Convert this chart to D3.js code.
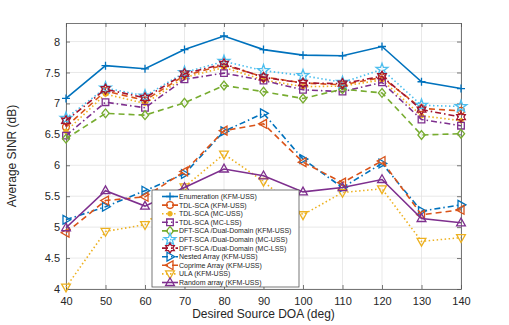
<!DOCTYPE html>
<html>
<head>
<meta charset="utf-8">
<script src="https://cdn.jsdelivr.net/npm/d3@7"></script>
<style>
  body { margin: 0; background: #fff; }
  text { font-family: "Liberation Sans", Arial, Helvetica, sans-serif; fill: #262626; }
</style>
</head>
<body>
<div id="chart"></div>
<script>
// data
var doa = [40, 50, 60, 70, 80, 90, 100, 110, 120, 130, 140];
var yTicks = [4, 4.5, 5, 5.5, 6, 6.5, 7, 7.5, 8];

var enumKFM   = [7.08, 7.61, 7.56, 7.87, 8.09, 7.87, 7.78, 7.77, 7.92, 7.35, 7.24];
var tdlKFM    = [6.62, 7.20, 7.05, 7.45, 7.62, 7.43, 7.33, 7.30, 7.42, 6.92, 6.88];
var tdlMCUSS  = [6.55, 7.15, 7.00, 7.42, 7.58, 7.38, 7.27, 7.28, 7.38, 6.80, 6.72];
var tdlMCLSS  = [6.48, 7.02, 6.93, 7.39, 7.49, 7.37, 7.22, 7.19, 7.34, 6.74, 6.64];
var dftKFM    = [6.43, 6.84, 6.81, 7.01, 7.29, 7.19, 7.08, 7.23, 7.17, 6.49, 6.51];
var dftMCUSS  = [6.76, 7.25, 7.12, 7.50, 7.68, 7.53, 7.45, 7.34, 7.55, 6.97, 6.95];
var dftMCLSS  = [6.72, 7.23, 7.09, 7.48, 7.64, 7.42, 7.33, 7.32, 7.44, 6.90, 6.78];
var nested    = [5.12, 5.33, 5.59, 5.86, 6.55, 6.84, 6.10, 5.64, 6.03, 5.26, 5.36];
var coprime   = [4.91, 5.43, 5.49, 5.90, 6.56, 6.67, 6.05, 5.72, 6.07, 5.20, 5.28];
var ula       = [4.03, 4.93, 5.04, 5.65, 6.18, 5.74, 5.20, 5.56, 5.62, 4.77, 4.83];
var randomArr = [4.99, 5.59, 5.34, 5.64, 5.94, 5.83, 5.57, 5.64, 5.77, 5.14, 5.07];

var names = ["Enumeration (KFM-USS)", "TDL-SCA (KFM-USS)", "TDL-SCA (MC-USS)", "TDL-SCA (MC-LSS)",
  "DFT-SCA /Dual-Domain (KFM-USS)", "DFT-SCA /Dual-Domain (MC-USS)", "DFT-SCA /Dual-Domain (MC-LSS)",
  "Nested Array (KFM-USS)", "Coprime Array (KFM-USS)", "ULA (KFM-USS)", "Random array (KFM-USS)"];
var values = [enumKFM, tdlKFM, tdlMCUSS, tdlMCLSS, dftKFM, dftMCUSS, dftMCLSS, nested, coprime, ula, randomArr];
var colors = ["#0072BD", "#D95319", "#EDB120", "#7E2F8E", "#77AC30", "#4DBEEE", "#A2142F",
  "#0072BD", "#D95319", "#EDB120", "#7E2F8E"];
var dashes = [null, "6,4", "1.5,2.5", "6,3,1.5,3", "6,4", "1.5,2.5", "6,3,1.5,3",
  "6,3,1.5,3", "6,4", "1.5,2.5", null];
var markers = ["plus", "circle", "dot", "square", "diamond", "pentagram", "hexagram",
  "right", "left", "down", "up"];

var w = 509, h = 325;
var margin = {left: 66, right: 48, top: 23, bottom: 36};

var svg = d3.select("#chart").append("svg")
  .attr("width", w).attr("height", h);

var x = d3.scaleLinear().domain([40, 140]).range([margin.left, w - margin.right]);
var y = d3.scaleLinear().domain([4, 8.3]).range([h - margin.bottom, margin.top]);

// marker shapes
function star(n, r1, r2) {
  var pts = [];
  for (var i = 0; i < 2 * n; i++) {
    var a = -Math.PI / 2 + i * Math.PI / n;
    var r = i % 2 ? r2 : r1;
    pts.push([r * Math.cos(a), r * Math.sin(a)]);
  }
  return "M" + pts.join("L") + "Z";
}
function markerPath(m) {
  var r = 3.6;
  if (m == "plus") return "M-4,0H4M0,-4V4";
  if (m == "circle") return d3.symbol(d3.symbolCircle, 36)();
  if (m == "square") return "M-3.3,-3.3H3.3V3.3H-3.3Z";
  if (m == "diamond") return "M0,-4.4L3.6,0L0,4.4L-3.6,0Z";
  if (m == "pentagram") return star(5, 6.2, 2.5);
  if (m == "hexagram") return star(6, 5, 2.9);
  if (m == "up") return "M0,-4.8L4.4,3L-4.4,3Z";
  if (m == "down") return "M0,4.8L4.4,-3L-4.4,-3Z";
  if (m == "right") return "M4.8,0L-3,4.4L-3,-4.4Z";
  if (m == "left") return "M-4.8,0L3,4.4L3,-4.4Z";
  return d3.symbol(d3.symbolCircle, 14)();
}

// grid
svg.append("g").selectAll("line").data(x.ticks(10)).enter().append("line")
  .attr("x1", d => x(d)).attr("x2", d => x(d))
  .attr("y1", margin.top).attr("y2", h - margin.bottom)
  .attr("stroke", "#e3e3e3").attr("stroke-width", 0.8);
svg.append("g").selectAll("line").data(yTicks).enter().append("line")
  .attr("x1", margin.left).attr("x2", w - margin.right)
  .attr("y1", d => y(d)).attr("y2", d => y(d))
  .attr("stroke", "#e3e3e3").attr("stroke-width", 0.8);

// axes (ticks inside, MATLAB style)
var xAxis = svg.append("g").attr("transform", "translate(0," + (h - margin.bottom) + ")")
  .call(d3.axisBottom(x).ticks(10).tickSizeInner(-4).tickSizeOuter(0).tickPadding(8));
var yAxis = svg.append("g").attr("transform", "translate(" + margin.left + ",0)")
  .call(d3.axisLeft(y).tickValues(yTicks).tickSizeInner(-4).tickSizeOuter(0).tickPadding(6)
    .tickFormat(d3.format("")));
svg.append("g").attr("transform", "translate(0," + margin.top + ")")
  .call(d3.axisTop(x).ticks(10).tickSizeInner(-4).tickSizeOuter(0).tickFormat(""));
svg.append("g").attr("transform", "translate(" + (w - margin.right) + ",0)")
  .call(d3.axisRight(y).tickValues(yTicks).tickSizeInner(-4).tickSizeOuter(0).tickFormat(""));
svg.selectAll(".domain").attr("stroke", "#555").attr("stroke-width", 0.8);
svg.selectAll(".tick line").attr("stroke", "#555").attr("stroke-width", 0.8);
svg.selectAll(".tick text").style("font-size", "11px").attr("fill", "#262626")
  .style("font-family", "'Liberation Sans', Arial, sans-serif");

// axis labels
svg.append("text").attr("x", (margin.left + w - margin.right) / 2).attr("y", 318)
  .attr("text-anchor", "middle").style("font-size", "12px").text("Desired Source DOA (deg)");
svg.append("text").attr("transform", "translate(16," + ((margin.top + h - margin.bottom) / 2) + ") rotate(-90)")
  .attr("text-anchor", "middle").style("font-size", "12px").text("Average SINR (dB)");

// series
var line = d3.line().x((d, i) => x(doa[i])).y(d => y(d));
values.forEach(function(vals, k) {
  var g = svg.append("g");
  g.append("path").datum(vals).attr("d", line)
    .attr("fill", "none").attr("stroke", colors[k]).attr("stroke-width", 1.6)
    .attr("stroke-dasharray", dashes[k]);
  g.selectAll("path.m").data(vals).enter().append("path").attr("class", "m")
    .attr("transform", (d, i) => "translate(" + x(doa[i]) + "," + y(d) + ")")
    .attr("d", markerPath(markers[k]))
    .attr("fill", markers[k] == "dot" ? colors[k] : "none")
    .attr("stroke", colors[k]).attr("stroke-width", 1.3);
});

// legend
var lx = 152, ly = 190, lw = 147, lh = 97, rowH = 8.6;
var leg = svg.append("g");
leg.append("rect").attr("x", lx).attr("y", ly).attr("width", lw).attr("height", lh)
  .attr("fill", "#fff").attr("stroke", "#555").attr("stroke-width", 0.8);
names.forEach(function(nm, k) {
  var cy = ly + 6.5 + k * rowH;
  leg.append("line").attr("x1", lx + 10).attr("x2", lx + 26).attr("y1", cy).attr("y2", cy)
    .attr("stroke", colors[k]).attr("stroke-width", 1.6).attr("stroke-dasharray", dashes[k]);
  leg.append("path").attr("transform", "translate(" + (lx + 18) + "," + cy + ")")
    .attr("d", markerPath(markers[k]))
    .attr("fill", markers[k] == "dot" ? colors[k] : "none")
    .attr("stroke", colors[k]).attr("stroke-width", 1.3);
  leg.append("text").attr("x", lx + 27).attr("y", cy + 2.5)
    .style("font-size", "7px").text(nm);
});
</script>
</body>
</html>
